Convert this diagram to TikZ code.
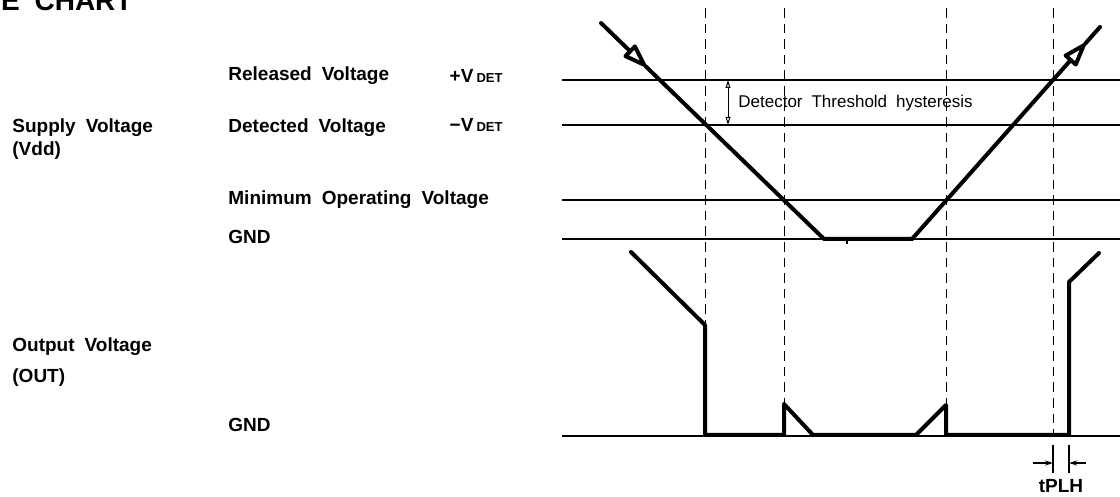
\documentclass[tikz,border=0pt]{standalone}
\usepackage{fontspec}
\usetikzlibrary{arrows.meta,positioning,calc}
\newfontfamily\lblfont[WordSpace=2.6]{Liberation Sans}
\newfontfamily\notefont[WordSpace=1.9]{Liberation Sans}

\begin{document}
\begin{tikzpicture}[
  x=0.5pt, y=-0.5pt,
  lbl/.style={font=\lblfont\bfseries\fontsize{9.5}{11}\selectfont, inner sep=0pt, anchor=base west},
  vdet/.style={font=\lblfont\bfseries\fontsize{9.5}{11}\selectfont, inner sep=0pt, anchor=base east},
  note/.style={font=\notefont\fontsize{8.5}{10}\selectfont, inner sep=0pt, anchor=west},
  level/.style={line width=0.6pt},
  guide/.style={line width=0.5pt, dash pattern=on 4.8pt off 3pt},
  wave/.style={line width=2pt, line join=round, line cap=round},
  bigtip/.style={-{Triangle[open, round, length=14pt, width=9pt]}},
  >=Stealth]
\useasboundingbox (0,0) rectangle (1120,497);

% title, cut at the top of the page
\node[font=\lblfont\bfseries\fontsize{14}{16}\selectfont, inner sep=0pt, anchor=base east] (title) at (133,11) {E CHART};

% labels
\node[lbl] (sup) at (12,133) {Supply Voltage};
\node[lbl, below=11.5pt of sup.base west, anchor=base west] (vdd) {(Vdd)};
\node[lbl] (rel) at (228,81) {Released Voltage};
\node[lbl] (det) at (228,133) {Detected Voltage};
\node[lbl] (minop) at (228,205) {Minimum Operating Voltage};
\node[lbl] (gnd) at (228,244) {GND};
\node[vdet] (vplus) at (503,83) {+V\,{\fontsize{6.5}{7}\selectfont DET}};
\node[vdet] (vminus) at (503,132) {−V\,{\fontsize{6.5}{7}\selectfont DET}};
\node[lbl] (outv) at (12,352) {Output Voltage};
\node[lbl, below=15.5pt of outv.base west, anchor=base west] (outn) {(OUT)};
\node[lbl] (gndo) at (228,431) {GND};

% levels
\foreach \nm/\y in {lrel/80, ldet/125, lmin/200, lgnd/239, lout/436} {
  \coordinate (\nm L) at (562,\y);
  \coordinate (\nm R) at (1120,\y);
  \draw[level] (\nm L) -- (\nm R);
}

% guides
\foreach \nm/\x in {d1/705, d2/784, d3/946, d4/1053} {
  \coordinate (\nm T) at (\x,8);
  \coordinate (\nm B) at (\x,436);
  \draw[guide] (\nm T) -- (\nm B);
}

% supply voltage
\coordinate (v0) at (601,23);
\coordinate (v1) at (824,239);
\coordinate (v2) at (912,239);
\coordinate (v3) at (1100,27);
\coordinate (vin) at ($(v0)!0.2!(v1)$);
\coordinate (vout) at ($(v2)!0.92!(v3)$);
\draw[wave, bigtip] (v0) -- (vin);
\draw[wave] (vin) -- (v1) -- (v2);
\draw[wave, bigtip] (v2) -- (vout);
\draw[wave] (vout) -- (v3);
\draw[level] (847,239) -- (847,244);

% hysteresis
\coordinate (hT) at (728,80);
\coordinate (hB) at (728,125);
\draw[line width=0.5pt, {Triangle[open, length=4pt, width=2.4pt]}-{Triangle[open, length=4pt, width=2.4pt]}] (hT) -- (hB);
\node[note] (hyst) at (738,103) {Detector Threshold hysteresis};

% output voltage
\draw[wave] (631,252) -- (705,325) -- (705,435) -- (784,435) -- (784,404) -- (813,435)
  -- (916,435) -- (946,405) -- (946,435) -- (1069,435) -- (1069,282) -- (1099,253);

% tPLH
\coordinate (t1T) at (1053,445);
\coordinate (t1B) at (1053,473);
\coordinate (t2T) at (1069,445);
\coordinate (t2B) at (1069,473);
\draw[level] (t1T) -- (t1B);
\draw[level] (t2T) -- (t2B);
\draw[level, -{Stealth[length=4pt, width=2.5pt]}] (1033,463) -- (t1T |- 0,463);
\draw[level, -{Stealth[length=4pt, width=2.5pt]}] (1086,463) -- (t2T |- 0,463);
\node[lbl, anchor=base] (tplh) at (1061,493) {tPLH};
\end{tikzpicture}
\end{document}
